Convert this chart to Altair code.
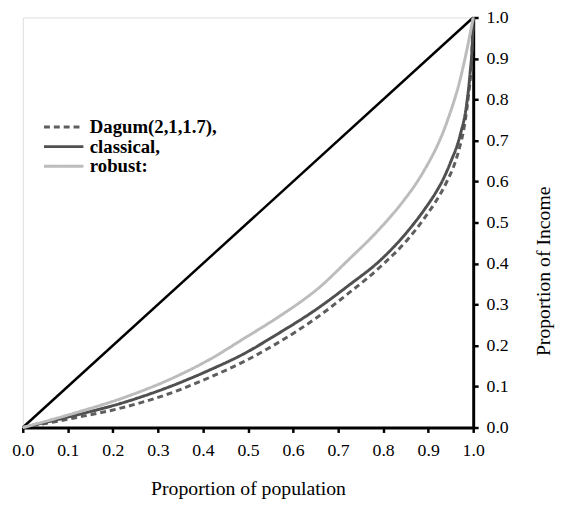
import altair as alt
import pandas as pd

# ---- data ----
series_names = ["Dagum(2,1,1.7),", "classical,", "robust:"]

dagum_x = [0.0, 0.1175, 0.227, 0.3435, 0.4165, 0.4894, 0.5624, 0.650, 0.7228,
           0.7958, 0.854, 0.8906, 0.9416, 0.956, 0.967, 0.9818, 0.989, 0.996, 1.0]
dagum_y = [0.0, 0.024, 0.050, 0.090, 0.123, 0.160, 0.204, 0.266, 0.327,
           0.394, 0.458, 0.509, 0.600, 0.635, 0.672, 0.745, 0.805, 0.890, 1.0]

classical_x = [0.0, 0.1175, 0.227, 0.3435, 0.4165, 0.4894, 0.5624, 0.650, 0.7228,
               0.7958, 0.854, 0.8906, 0.919, 0.934, 0.949, 0.971, 0.985, 0.9927, 0.9985, 1.0]
classical_y = [0.0, 0.030, 0.062, 0.107, 0.141, 0.179, 0.226, 0.287, 0.346,
               0.410, 0.478, 0.530, 0.577, 0.607, 0.645, 0.713, 0.785, 0.860, 0.950, 1.0]

robust_x = [0.0, 0.1175, 0.227, 0.3435, 0.4165, 0.4894, 0.5624, 0.6244, 0.650,
            0.7228, 0.7958, 0.8396, 0.876, 0.8906, 0.9416, 0.971, 0.989, 1.0]
robust_y = [0.0, 0.036, 0.074, 0.126, 0.167, 0.216, 0.266, 0.3125, 0.334,
            0.4087, 0.4888, 0.545, 0.600, 0.626, 0.745, 0.849, 0.9375, 1.0]

equality_x = [0.0, 1.0]
equality_y = [0.0, 1.0]

tick_values = [0.0, 0.1, 0.2, 0.3, 0.4, 0.5, 0.6, 0.7, 0.8, 0.9, 1.0]
x_title = "Proportion of population"
y_title = "Proportion of Income"

# ---- tables ----
rows = []
for name, xs, ys in zip(series_names,
                        [dagum_x, classical_x, robust_x],
                        [dagum_y, classical_y, robust_y]):
    for i, (a, b) in enumerate(zip(xs, ys)):
        rows.append({"x": a, "y": b, "series": name, "idx": i})
curves = pd.DataFrame(rows)
equality = pd.DataFrame({"x": equality_x, "y": equality_y, "idx": [0, 1]})

font = "Liberation Serif"
scale01 = alt.Scale(domain=[0, 1], nice=False, zero=True)

x_enc = alt.X(
    "x:Q", scale=scale01,
    axis=alt.Axis(
        values=tick_values, format=".1f", title=x_title, orient="bottom", grid=False,
        domainColor="black", domainWidth=3, tickColor="black", tickWidth=2.5, tickSize=5,
        labelFont=font, labelFontSize=18, labelColor="black", labelPadding=9,
        labelFlush=False, labelOverlap=False,
        titleFont=font, titleFontSize=20, titleFontWeight="normal", titleColor="black",
        titleY=62, titleBaseline="middle",
    ),
)
y_enc = alt.Y(
    "y:Q", scale=scale01,
    axis=alt.Axis(
        values=tick_values, format=".1f", title=y_title, orient="right", grid=False,
        domainColor="black", domainWidth=3, tickColor="black", tickWidth=2.5, tickSize=5,
        labelFont=font, labelFontSize=18, labelColor="black", labelPadding=8,
        labelFlush=False, labelOverlap=False,
        titleFont=font, titleFontSize=20, titleFontWeight="normal", titleColor="black",
        titleAngle=270, titleX=71, titleY=257, titleAlign="center", titleBaseline="middle",
    ),
)

leg = alt.Legend(
    title=None, orient="none", legendX=20, legendY=101, symbolType="stroke",
    symbolSize=1600, clipHeight=20, rowPadding=0, labelOffset=5, padding=0,
    labelFont=font, labelFontSize=19, labelFontWeight="bold", labelColor="black",
    labelLimit=400,
)

diag = alt.Chart(equality).mark_line(color="black", strokeWidth=2.5).encode(
    x=x_enc, y=y_enc, order="idx:Q"
)

lines = alt.Chart(curves).mark_line(interpolate="monotone").encode(
    x=x_enc, y=y_enc, order="idx:Q",
    color=alt.Color("series:N", scale=alt.Scale(domain=series_names,
                    range=["#5e5e5e", "#505050", "#bcbcbc"]), legend=leg),
    strokeDash=alt.StrokeDash("series:N", scale=alt.Scale(domain=series_names,
                    range=[[6, 4], [1, 0], [1, 0]]), legend=leg),
    strokeWidth=alt.StrokeWidth("series:N", scale=alt.Scale(domain=series_names,
                    range=[3, 3, 1.8]), legend=leg),
)

chart = alt.layer(diag, lines).properties(
    width=457, height=416,
    autosize=alt.AutoSizeParams(type="none"),
    padding={"left": 15, "top": 6, "right": 84, "bottom": 77},
).configure_view(stroke=None).configure(background="white")

chart.save("out.html", embed_options={"renderer": "svg", "actions": False})
